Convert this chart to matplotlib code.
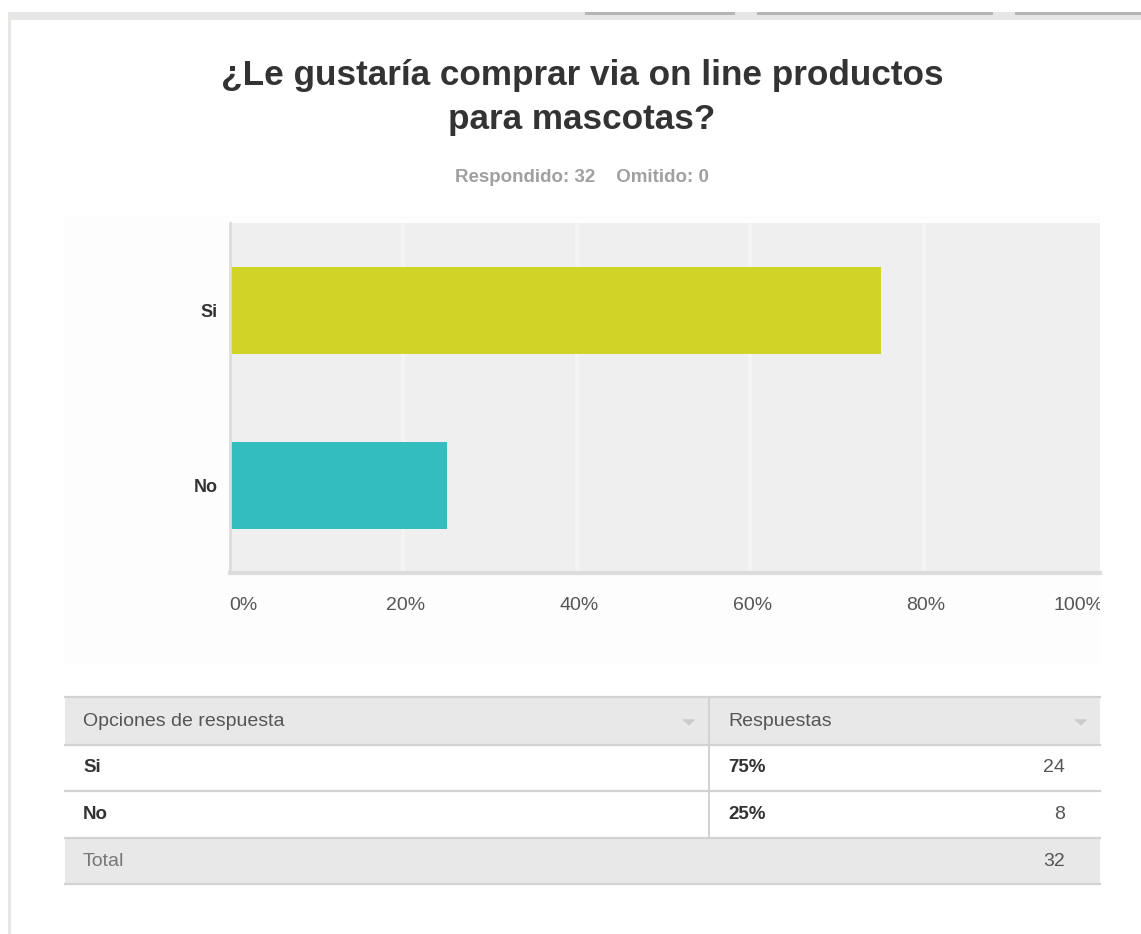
import numpy as np
import matplotlib.pyplot as plt
from matplotlib.patches import Rectangle

# Datos de la encuesta
categorias = ["Si", "No"]
porcentajes = [75, 25]
conteos = [24, 8]
respondido = 32
omitido = 0
colores = ["#cfd426", "#33bdbf"]
ticks_x = [0, 20, 40, 60, 80, 100]

W, H = 1141, 934
plt.rcParams["font.family"] = ["Liberation Sans", "DejaVu Sans"]

fig = plt.figure(figsize=(W / 100, H / 100), dpi=100)


def px_rect(x0, y0, x1, y1):
    """Rectangulo en pixeles (origen arriba-izquierda) -> coords de figura."""
    return [x0 / W, 1 - y1 / H, (x1 - x0) / W, (y1 - y0) / H]


# ── Capa de fondo (marco, titulo, tabla) ─────────────────────────
bg = fig.add_axes([0, 0, 1, 1])
bg.set_xlim(0, W)
bg.set_ylim(H, 0)
bg.axis("off")

# marco superior e izquierdo de la tarjeta
bg.add_patch(Rectangle((8, 12), W - 8, 8, color="#e6e6e4", lw=0))
for x0, x1 in [(585, 735), (757, 993), (1015, 1141)]:
    bg.add_patch(Rectangle((x0, 12), x1 - x0, 2.5, color="#b4b4b4", lw=0))
bg.add_patch(Rectangle((8, 12), 3, H, color="#e6e6e4", lw=0))
# panel muy tenue detras del grafico
bg.add_patch(Rectangle((63, 215), 1100 - 63, 450, color="#fdfdfd", lw=0))

bg.text(582, 76, "¿Le gustaría comprar via on line productos",
        ha="center", va="center", fontsize=25.3, fontweight="bold", color="#333333")
bg.text(582, 119, "para mascotas?",
        ha="center", va="center", fontsize=25.3, fontweight="bold", color="#333333")
bg.text(582, 177, f"Respondido: {respondido}    Omitido: {omitido}",
        ha="center", va="center", fontsize=13.5, fontweight="bold", color="#a0a0a0")

# tabla de respuestas
tx0, tx1, tdiv = 65, 1100, 709
filas_y = [697, 745, 791, 838, 884]
gris = "#e8e8e8"
linea = "#d2d2d2"
bg.add_patch(Rectangle((tx0, filas_y[0]), tx1 - tx0, filas_y[1] - filas_y[0], color=gris, lw=0))
bg.add_patch(Rectangle((tx0, filas_y[3]), tx1 - tx0, filas_y[4] - filas_y[3], color=gris, lw=0))
for y in filas_y:
    bg.plot([tx0, tx1], [y, y], color=linea, lw=1.6)
bg.plot([tdiv, tdiv], [filas_y[0], filas_y[3]], color=linea, lw=1.4)

yc = [(filas_y[i] + filas_y[i + 1]) / 2 for i in range(4)]
bg.text(83, yc[0], "Opciones de respuesta", ha="left", va="center",
        fontsize=14, color="#555555")
bg.text(728, yc[0], "Respuestas", ha="left", va="center",
        fontsize=14, color="#555555")
flecha = [(-1, 0.45), (1, 0.45), (0, -0.45)]
bg.plot([688, 1080], [yc[0] + 1, yc[0] + 1], linestyle="none", marker=flecha,
        markersize=8, color="#cbcbcb")
for i, (cat, pct, n) in enumerate(zip(categorias, porcentajes, conteos)):
    bg.text(83, yc[i + 1], cat, ha="left", va="center", fontsize=13.5,
            fontweight="bold", color="#333333")
    bg.text(728, yc[i + 1], f"{pct}%", ha="left", va="center", fontsize=13.5,
            fontweight="bold", color="#333333")
    bg.text(1065, yc[i + 1], f"{n}", ha="right", va="center", fontsize=14,
            color="#555555")
bg.text(83, yc[3], "Total", ha="left", va="center", fontsize=14, color="#777777")
bg.text(1065, yc[3], f"{sum(conteos)}", ha="right", va="center", fontsize=14,
        color="#555555")

# ── Grafico de barras ────────────────────────────────────────────
ax = fig.add_axes(px_rect(230, 223, 1100, 573))
ax.set_facecolor("#efefef")
pos = np.arange(len(categorias))[::-1]
ax.barh(pos, porcentajes, height=0.5, color=colores, zorder=3)
ax.set_xlim(0, 100.3)
ax.set_ylim(-0.5, 1.5)
ax.set_xticks(ticks_x[1:-1])
ax.set_xticklabels([])
ax.set_yticks(pos)
ax.set_yticklabels(categorias, fontsize=13, fontweight="bold", color="#333333")
ax.tick_params(length=0, pad=9)
ax.grid(axis="x", color="#f4f4f4", lw=3, zorder=1)
for s in ["top", "right"]:
    ax.spines[s].set_visible(False)
ax.spines["left"].set_color("#dcdcdc")
ax.spines["left"].set_linewidth(2)
ax.spines["bottom"].set_color("#dcdcdc")
ax.spines["bottom"].set_linewidth(3)
for s in ["left", "bottom"]:
    ax.spines[s].set_zorder(4)

# etiquetas del eje x: la primera alineada a la izquierda, la ultima recortada
clip = Rectangle((0, 0), 1100 / W, 1, transform=fig.transFigure)
for t in ticks_x:
    if t == 0:
        ha, dx = "left", -1
    elif t == ticks_x[-1]:
        ha, dx = "left", -44
    else:
        ha, dx = "center", 2
    lbl = ax.annotate(f"{t}%", xy=(t, 0), xycoords=("data", "axes fraction"),
                      xytext=(dx, -33), textcoords="offset pixels",
                      ha=ha, va="center", fontsize=14, color="#555555",
                      annotation_clip=False)
    lbl.set_clip_path(clip)
    lbl.set_clip_on(True)

fig.savefig("out.png", dpi=100)
